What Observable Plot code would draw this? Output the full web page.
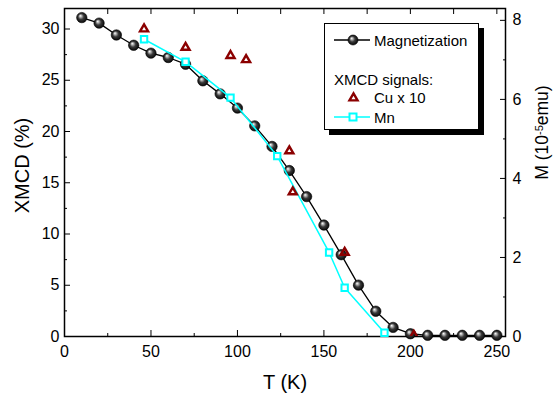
<!DOCTYPE html>
<html><head><meta charset="utf-8">
<script src="https://cdn.jsdelivr.net/npm/d3@7"></script>
<script src="https://cdn.jsdelivr.net/npm/@observablehq/plot@0.6"></script>
<style>
body{margin:0;background:#fff;font-family:"Liberation Sans",Arial,sans-serif;}
#wrap{position:relative;width:553px;height:397px;overflow:hidden;}
#legend{position:absolute;left:324px;top:23px;width:153px;height:105px;border:1px solid #000;background:#fff;box-shadow:5px 5px 0 #000;}
#legend svg{display:block;}
</style></head><body>
<div id="wrap"><div id="chart"></div><div id="legend"></div></div>
<script>
// Magnetization (right axis, 10^-5 emu) vs T (K)
const magT = [10,20,30,40,50,60,70,80,90,100,110,120,130,140,150,160,170,180,190,200,210,220,230,240,250];
const magM = [8.07,7.93,7.63,7.37,7.17,7.06,6.89,6.47,6.14,5.78,5.33,4.81,4.20,3.54,2.82,2.07,1.30,0.64,0.23,0.07,0.03,0.03,0.03,0.03,0.03];
// Mn XMCD (%)
const mnT = [46,70,96,123,153,162,185];
const mnX = [29.0,26.8,23.3,17.6,8.2,4.75,0.36];
// Cu XMCD x 10 (%)
const cuT = [46,70,96,105,130,132,162,202];
const cuX = [30.0,28.2,27.4,27.0,18.1,14.1,8.2,0.1];
// axes
const xMajor = [0,50,100,150,200,250];
const xMinor = [25,75,125,175,225];
const yMajor = [0,5,10,15,20,25,30];
const yMinor = [2.5,7.5,12.5,17.5,22.5,27.5];
const mMajor = [0,2,4,6,8];
const mMinor = [1,3,5,7];
const XMAX = 255, YMAX = 32, MMAX = 8.3;
const k = YMAX / MMAX;

const mag = magT.map((t,i)=>({t, y: magM[i]*k}));
const mn = mnT.map((t,i)=>({t, y: mnX[i]}));
const cu = cuT.map((t,i)=>({t, y: cuX[i]}));

const FONT = '"Liberation Sans", Arial, sans-serif';
const blank = () => "";

const svg = Plot.plot({
  width: 553, height: 397,
  marginLeft: 64, marginRight: 48, marginTop: 8, marginBottom: 61,
  style: {fontFamily: FONT, fontSize: "16px", color: "#000", background: "#fff", overflow: "visible"},
  x: {domain: [0, XMAX]},
  y: {domain: [0, YMAX]},
  marks: [
    Plot.axisX({ticks: xMajor, tickSize: -6, tickPadding: 15, tickFormat: d => d, label: null, fontSize: 16}),
    Plot.axisX({ticks: xMinor, tickSize: -3, tickFormat: blank, label: null}),
    Plot.axisX({anchor: "top", ticks: xMajor.concat(xMinor), tickSize: -5, tickFormat: blank, label: null}),
    Plot.axisY({ticks: yMajor, tickSize: -6, tickPadding: 11, tickFormat: d => d, label: null, fontSize: 16}),
    Plot.axisY({ticks: yMinor, tickSize: -3, tickFormat: blank, label: null}),
    Plot.axisY({anchor: "right", ticks: mMajor.map(m => m*k), tickSize: -6, tickPadding: 13, tickFormat: d => Math.round(d/k), label: null, fontSize: 16}),
    Plot.axisY({anchor: "right", ticks: mMinor.map(m => m*k), tickSize: -3, tickFormat: blank, label: null}),
    Plot.frame({stroke: "#000", strokeWidth: 1.5}),
    Plot.text(["T (K)"], {frameAnchor: "bottom", dy: 46, fontSize: 20, textAnchor: "middle", lineAnchor: "middle"}),
    Plot.text(["XMCD (%)"], {frameAnchor: "left", dx: -42, dy: -7, rotate: -90, fontSize: 20, textAnchor: "middle", lineAnchor: "middle"}),
    Plot.text(["M (10^-5emu)"], {frameAnchor: "right", dx: 37, dy: -40, rotate: -90, fontSize: 17.5, textAnchor: "middle", lineAnchor: "middle"}),
    Plot.line(mag, {x: "t", y: "y", stroke: "#000", strokeWidth: 1.3}),
    Plot.dot(mag, {x: "t", y: "y", r: 5.2, fill: "url(#ball)", stroke: "#000", strokeWidth: 0.6}),
    Plot.line(mn, {x: "t", y: "y", stroke: "#00ffff", strokeWidth: 1.5}),
    Plot.dot(mn, {x: "t", y: "y", symbol: "square", r: 3.6, fill: "#fff", stroke: "#00ffff", strokeWidth: 2}),
    Plot.dot(cu, {x: "t", y: "y", symbol: "triangle", r: 3.0, fill: "none", stroke: "#8b0000", strokeWidth: 2.4, clip: true})
  ]
});

// superscript in right-axis title
d3.select(svg).selectAll("text").filter(function() { return this.textContent === "M (10^-5emu)"; })
  .each(function() {
    const t = d3.select(this);
    t.text(null);
    t.append("tspan").text("M (10");
    t.append("tspan").attr("dy", "-0.45em").attr("font-size", "11px").text("-5");
    t.append("tspan").attr("dy", "0.3em").text("emu)");
  });

const grad = `<radialGradient id="ball" cx="0.5" cy="0.5" r="0.55" fx="0.35" fy="0.32">
  <stop offset="0" stop-color="#ffffff"/><stop offset="0.18" stop-color="#bdbdbd"/>
  <stop offset="0.5" stop-color="#3a3a3a"/><stop offset="1" stop-color="#000"/></radialGradient>`;
d3.select(svg).insert("defs", ":first-child").html(grad);
document.getElementById("chart").appendChild(svg);

// legend
const lg = d3.select("#legend").append("svg").attr("width", 153).attr("height", 105)
  .style("font-family", FONT).style("font-size", "15px");
lg.append("defs").html(grad.replace('id="ball"', 'id="ball2"'));
lg.append("line").attr("x1", 9).attr("x2", 45).attr("y1", 16).attr("y2", 16).attr("stroke", "#000").attr("stroke-width", 1.3);
lg.append("circle").attr("cx", 28).attr("cy", 16).attr("r", 5).attr("fill", "url(#ball2)").attr("stroke", "#000").attr("stroke-width", 0.6);
lg.append("text").attr("x", 49).attr("y", 21.5).text("Magnetization");
lg.append("text").attr("x", 9).attr("y", 60.5).text("XMCD signals:");
lg.append("path").attr("transform", "translate(28.5,74)").attr("d", d3.symbol(d3.symbolTriangle, Math.PI*9)())
  .attr("fill", "none").attr("stroke", "#8b0000").attr("stroke-width", 2.4);
lg.append("text").attr("x", 49).attr("y", 79).text("Cu x 10");
lg.append("line").attr("x1", 9).attr("x2", 45).attr("y1", 93).attr("y2", 93).attr("stroke", "#00ffff").attr("stroke-width", 1.5);
lg.append("rect").attr("x", 24.5).attr("y", 89.5).attr("width", 7).attr("height", 7).attr("fill", "#fff").attr("stroke", "#00ffff").attr("stroke-width", 2);
lg.append("text").attr("x", 49).attr("y", 98.5).text("Mn");
</script>
</body></html>
